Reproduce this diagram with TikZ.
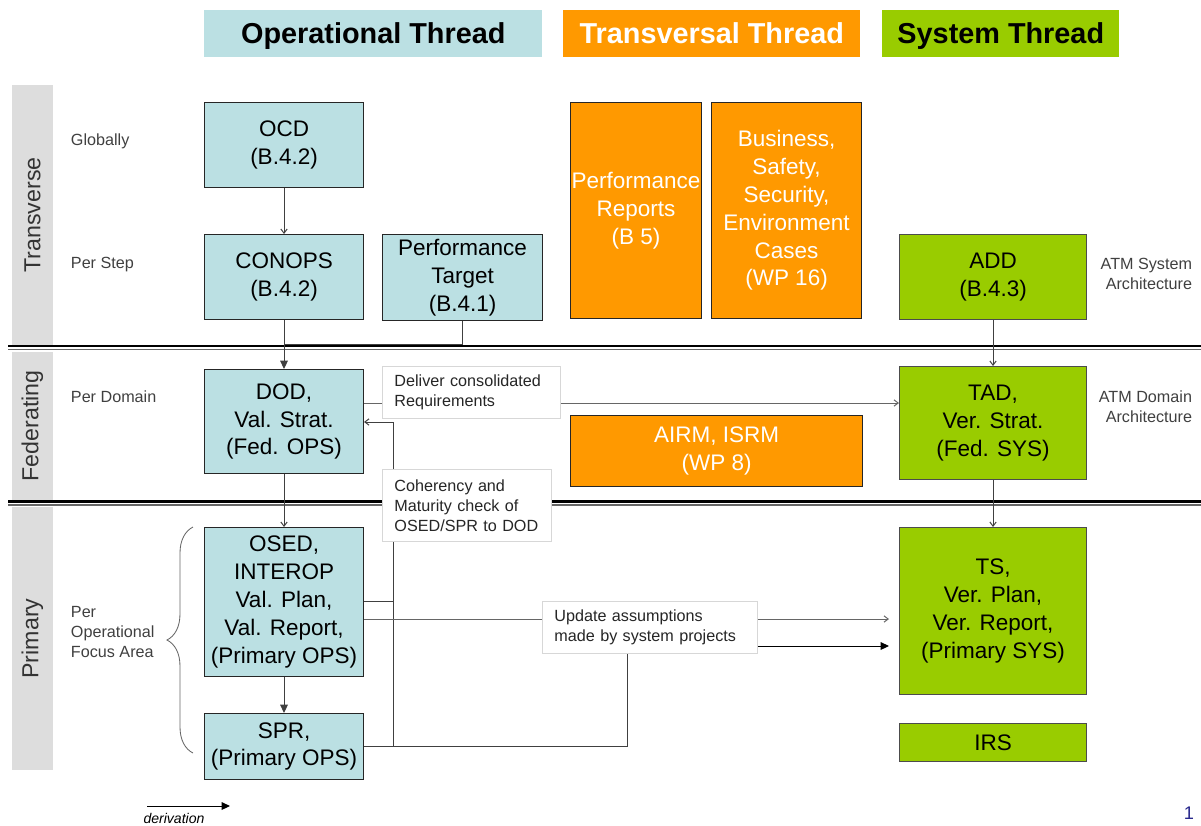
\documentclass[tikz,border=0pt]{standalone}
\usepackage{fontspec}
\setmainfont{Liberation Sans}
\usetikzlibrary{positioning,arrows.meta,decorations.pathreplacing}
\definecolor{opblue}{RGB}{187,224,227}
\definecolor{trorange}{RGB}{255,153,0}
\definecolor{sysgreen}{RGB}{153,204,0}
\definecolor{lanegray}{RGB}{221,221,221}
\definecolor{notegray}{RGB}{215,215,215}
\definecolor{pgblue}{RGB}{40,40,140}

\begin{document}
\begin{tikzpicture}[x=0.025cm,y=-0.025cm]
	\tikzstyle{box}=[anchor=north west, draw=black!85, line width=0.7pt, shape=rectangle, inner sep=0pt, align=center, font=\fontsize{16}{19.8}\selectfont];
	\tikzstyle{opnode}=[box, fill=opblue, minimum width=3.975cm];
	\tikzstyle{trnode}=[box, fill=trorange, text=white];
	\tikzstyle{synode}=[box, fill=sysgreen, draw=black!70, minimum width=4.675cm];
	\tikzstyle{hnode}=[anchor=north west, shape=rectangle, inner sep=0pt, minimum height=1.175cm, text height=17pt, text depth=2.8pt, font=\bfseries\fontsize{20.5}{24}\selectfont];
	\tikzstyle{lnode}=[rotate=90, fill=lanegray, text=black!80, minimum height=1.025cm, inner sep=0pt, font=\fontsize{16.5}{20}\selectfont];
	\tikzstyle{rnode}=[anchor=west, align=left, text=black!75, font=\fontsize{11.5}{14.2}\selectfont];
	\tikzstyle{cnode}=[anchor=north west, draw=notegray, fill=white, line width=0.6pt, inner xsep=0.3cm, inner ysep=0pt, align=left, text=black!85, font=\fontsize{11.5}{14.2}\selectfont];
	\tikzstyle{conn}=[draw=black!75, line width=0.7pt];
	\tikzstyle{sarr}=[conn, -{Straight Barb[length=3pt,width=4.5pt]}];
	\tikzstyle{barr}=[conn, -{Triangle[length=6pt,width=5.5pt]}];
	\tikzstyle{sepline}=[line width=1.6pt, draw=black];

	\useasboundingbox (0,0) rectangle (1201,825);

	\node[hnode, fill=opblue, minimum width=8.45cm] (hop) at (204,10) {Operational Thread};
	\node[hnode, fill=trorange, text=white, minimum width=7.425cm] (htr) at (563,10) {Transversal Thread};
	\node[hnode, fill=sysgreen, minimum width=5.925cm] (hsys) at (882,10) {System Thread};

	\node[lnode, minimum width=6.5cm] (ltr) at (32.5,215) {Transverse};
	\node[lnode, minimum width=3.7cm] (lfed) at (32.5,426) {Federating};
	\node[lnode, minimum width=6.575cm] (lpri) at (32.5,638.5) {Primary};

	\draw[sepline] (8,346) -- (1201,346);
	\draw[line width=0.8pt, black!60] (8,349.5) -- (1201,349.5);
	\draw[sepline] (8,501.5) -- (1201,501.5);
	\draw[line width=0.8pt, black!60] (8,505) -- (1201,505);

	\node[rnode] (rglo) at (66,141) {Globally};
	\node[rnode] (rstep) at (66,265) {Per Step};
	\node[rnode] (rdom) at (66,397) {Per Domain};
	\node[rnode] (rofa) at (66,632) {Per\\Operational\\Focus Area};
	\node[rnode, anchor=east, align=right] (rsys) at (1197,274) {ATM System\\Architecture};
	\node[rnode, anchor=east, align=right] (rdarch) at (1197,407) {ATM Domain\\Architecture};

	\node[opnode, minimum height=2.125cm] (ocd) at (204,102) {OCD\\(B.4.2)};
	\node[opnode, minimum height=2.125cm] (conops) at (204,234) {CONOPS\\(B.4.2)};
	\node[opnode, minimum width=4cm, minimum height=2.15cm] (ptgt) at (382,234) {Performance\\Target\\(B.4.1)};
	\node[opnode, minimum height=2.6cm] (dod) at (204,369) {DOD,\\Val. Strat.\\(Fed. OPS)};
	\node[opnode, minimum height=3.725cm] (osed) at (204,527) {OSED,\\INTEROP\\Val. Plan,\\Val. Report,\\(Primary OPS)};
	\node[opnode, minimum height=1.65cm] (spr) at (204,713) {SPR,\\(Primary OPS)};

	\node[trnode, minimum width=3.275cm, minimum height=5.4cm] (prep) at (570,102) {Performance\\Reports\\(B 5)};
	\node[trnode, minimum width=3.75cm, minimum height=5.4cm] (bsc) at (711,102) {Business,\\Safety,\\Security,\\Environment\\Cases\\(WP 16)};
	\node[trnode, minimum width=7.3cm, minimum height=1.775cm] (airm) at (570,415) {AIRM, ISRM\\(WP 8)};

	\node[synode, minimum height=2.125cm] (add) at (899,234) {ADD\\(B.4.3)};
	\node[synode, minimum height=2.825cm] (tad) at (899,366) {TAD,\\Ver. Strat.\\(Fed. SYS)};
	\node[synode, minimum height=4.175cm] (ts) at (899,527) {TS,\\Ver. Plan,\\Ver. Report,\\(Primary SYS)};
	\node[synode, minimum height=0.95cm] (irs) at (899,723) {IRS};

	\node[cnode, text width=3.85cm, minimum height=1.3cm] (ndel) at (382,366) {Deliver consolidated\\Requirements};
	\node[cnode, text width=3.625cm, minimum height=1.8cm] (ncoh) at (382,469) {Coherency and\\Maturity check of\\OSED/SPR to DOD};
	\node[cnode, text width=4.775cm, minimum height=1.3cm] (nupd) at (542,601) {Update assumptions\\made by system projects};

	\coordinate (jt) at (283.5,344);
	\coordinate (cb) at (393,746);
	\coordinate (ub) at (627,746);

	\draw[sarr] (ocd) -- (conops);
	\draw[barr] (conops) -- (dod);
	\draw[conn] (ptgt.south) |- (jt);
	\draw[sarr] (dod) -- (osed);
	\draw[barr] (osed) -- (spr);
	\draw[sarr] (add) -- (tad);
	\draw[sarr] (tad) -- (ts);

	\draw[conn, black!60] (dod.east |- 0,403) -- (ndel.west |- 0,403);
	\draw[sarr, black!60] (ndel.east |- 0,403) -- (tad.west |- 0,403);

	\draw[conn] (spr.east |- cb) -- (ub) -- (ub |- nupd.south);
	\draw[conn] (cb) -- (cb |- ncoh.south);
	\draw[sarr] (cb |- ncoh.north) |- (dod.east |- 0,422);
	\draw[conn] (osed.east |- 0,601) -- (cb |- 0,601);

	\draw[conn, black!60] (osed.east |- 0,619) -- (nupd.west |- 0,619);
	\draw[sarr, black!60, shorten >=0.25cm] (nupd.east |- 0,619) -- (ts.west |- 0,619);
	\draw[barr, black, shorten >=0.25cm] (nupd.east |- 0,646) -- (ts.west |- 0,646);

	\draw[decorate, decoration={brace, amplitude=0.65cm}, black!60, line width=0.6pt] (193,753) -- (193,527);

	\coordinate (dl0) at (147,806);
	\coordinate (dl1) at (230,806);
	\draw[barr, black] (dl0) -- (dl1);
	\node[anchor=south, inner sep=0pt, font=\itshape\fontsize{10}{12}\selectfont] (lder) at (174,823.5) {derivation};
	\node[text=pgblue, font=\fontsize{13}{15}\selectfont] (pnum) at (1189,813) {1};

	\end{tikzpicture}
\end{document}
